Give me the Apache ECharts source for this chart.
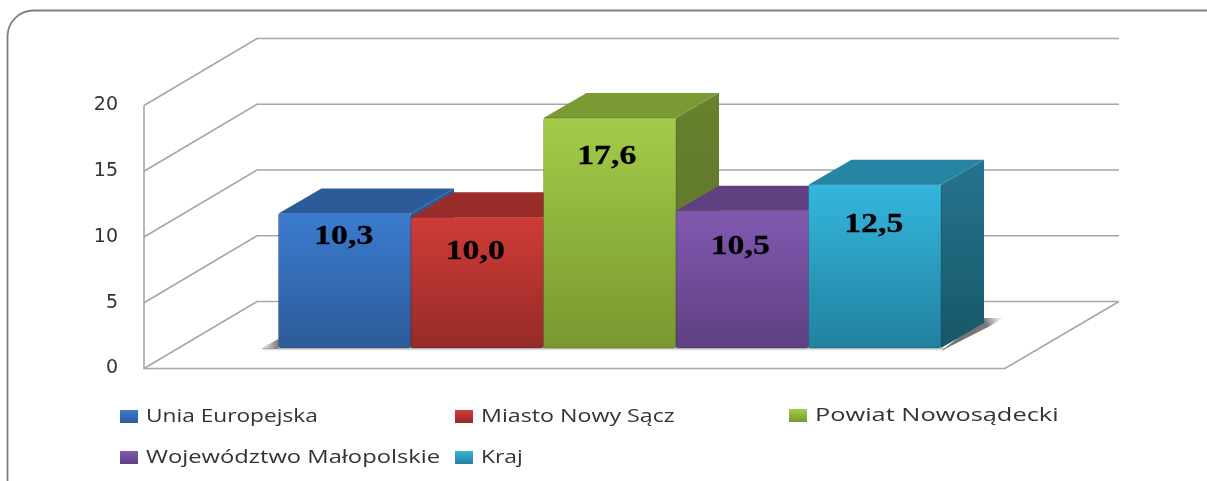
<!DOCTYPE html>
<html><head><meta charset="utf-8">
<style>html,body{margin:0;padding:0;background:#fff}#c{width:1207px;height:481px;filter:blur(0.5px)}</style>
<script src="https://cdn.jsdelivr.net/npm/echarts@6/dist/echarts.min.js"></script>
</head><body><div id="c"></div>
<script>
const categories = ['Unia Europejska','Miasto Nowy Sącz','Powiat Nowosądecki','Województwo Małopolskie','Kraj'];
const values = [10.3,10.0,17.6,10.5,12.5];
const valueLabels = ['10,3','10,0','17,6','10,5','12,5'];
const yTicks = [0,5,10,15,20];

const labelDrop = [24,35,39,36,40];
const labelShift = [-1,-2,-3,-2,-1];
const faceTop = ['#3b7bcf','#d03b37','#a3cc49','#8059b0','#33b7dd'];
const faceBottom = ['#2c5b98','#952b28','#78982f','#5f4082','#22809f'];
const lidColor = ['#2b5c99','#9a2c2a','#7a9a34','#5f4080','#2685a4'];
const sideTop = ['#2b5c99','#8a2725','#67812e','#553a75','#26748f'];
const sideBottom = ['#234c80','#752120','#5c7429','#482f63','#175768'];
const legendSpots = [[120,410],[455,410],[789,409],[120,451],[455,451]];
const legendScale = [1.26,1.29,1.41,1.32,1.27];
const LEGEND_TEXT_X = 26;

const DEPTH = [43,-25], WALL = [113,-67], GRID = '#a6a6a6';
const chart = echarts.init(document.getElementById('c'), null, {renderer:'canvas'});
const vGrad = (a,b)=>new echarts.graphic.LinearGradient(0,0,0,1,[{offset:0,color:a},{offset:1,color:b}]);

const wallSeries = {
  type:'custom', xAxisIndex:0, yAxisIndex:0, silent:true, z:1, clip:false,
  data: yTicks.map(t=>[0,t]),
  renderItem(params, api){
    const t = api.value(1), y = api.coord([0,t])[1], x = params.coordSys.x;
    const right = x + params.coordSys.width;
    const kids = [{type:'polyline',shape:{points:[[x,y],[x+WALL[0],y+WALL[1]],[right+WALL[0]+1,y+WALL[1]]]},
      style:{stroke:GRID,lineWidth:1.6,fill:null}}];
    if(t===0){
      kids.push({type:'polyline',shape:{points:[[x,params.coordSys.y],[x,y],[right,y],[right+WALL[0]+1,y+WALL[1]]]},
        style:{stroke:GRID,lineWidth:1.6,fill:null}});
    }
    return {type:'group',children:kids};
  }
};

const shadowSeries = {
  type:'custom', xAxisIndex:1, yAxisIndex:1, silent:true, z:2, clip:false,
  data:[[0,0]],
  renderItem(params, api){
    const cs = params.coordSys, b = cs.y+cs.height, l = cs.x, r = cs.x+cs.width;
    return {type:'group',children:[
      {type:'polygon',shape:{points:[[l-19,b+1],[l,b-9],[l,b+1]]},
        style:{fill:new echarts.graphic.LinearGradient(0,0,1,0,[{offset:0,color:'rgba(120,120,120,0.05)'},{offset:1,color:'rgba(70,70,70,0.75)'}])}},
      {type:'rect',shape:{x:l-16,y:b,width:cs.width+20,height:3},
        style:{fill:vGrad('rgba(120,120,120,0.6)','rgba(200,200,200,0.05)')}},
      {type:'polygon',shape:{points:[[r,b+3],[r+DEPTH[0]+6,b+DEPTH[1]+3],[r+DEPTH[0]+19,b+DEPTH[1]-5],[r+DEPTH[0],b+DEPTH[1]-5]]},
        style:{fill:new echarts.graphic.LinearGradient(0,1,1,0,[{offset:0,color:'rgba(50,50,50,0.7)'},{offset:0.75,color:'rgba(50,50,50,0.65)'},{offset:1,color:'rgba(120,120,120,0.05)'}])}}
    ]};
  }
};

const barSeries = categories.map((name,i)=>({
  type:'custom', name, xAxisIndex:1, yAxisIndex:1, z:3+i, clip:false,
  itemStyle:{color:faceTop[i]},
  data:[[i,values[i]]],
  renderItem(params, api){
    const tl = api.coord([i,api.value(1)]), base = api.coord([i,0]), w = api.size([1,0])[0];
    const x0 = tl[0]-w/2, x1 = tl[0]+w/2, yT = tl[1], yB = base[1];
    const [dx,dy] = DEPTH;
    return {type:'group',children:[
      {type:'polygon',shape:{points:[[x1,yT],[x1+dx,yT+dy],[x1+dx,yB+dy],[x1,yB]]},
        style:{fill:vGrad(sideTop[i],sideBottom[i])}},
      {type:'polygon',shape:{points:[[x0,yT],[x0+dx,yT+dy],[x1+dx,yT+dy],[x1,yT]]},
        style:{fill:lidColor[i]}},
      {type:'rect',shape:{x:x0,y:yT,width:w,height:yB-yT,r:2},
        style:{fill:vGrad(faceTop[i],faceBottom[i]),stroke:'rgba(0,0,0,0.22)',lineWidth:0.8}},
      {type:'text',x:tl[0]+labelShift[i],y:yT+labelDrop[i],scaleX:1.25,
        style:{text:valueLabels[i],textAlign:'center',textVerticalAlign:'middle',
          font:'bold 27px "Liberation Serif", serif',fill:'#000',stroke:'#000',lineWidth:0.3}}
    ]};
  }
}));

chart.setOption({
  animation:false,
  backgroundColor:'#fff',
  graphic:[
    {type:'rect',z:0,shape:{x:7.5,y:10.5,width:1226,height:495,r:26},
      style:{fill:'#fff',stroke:'#808080',lineWidth:1.8},silent:true},
    ...categories.map((name,i)=>({type:'text',z:10,x:legendSpots[i][0]+LEGEND_TEXT_X,y:legendSpots[i][1]+6.5,scaleX:legendScale[i],
      style:{text:name,font:'18px "Open Sans"',fill:'#333',textAlign:'left',textVerticalAlign:'middle'},silent:true}))
  ],
  grid:[
    {left:144,top:105.5,width:861,height:263},
    {left:278.5,top:86.6,width:662.5,height:261.4}
  ],
  xAxis:[
    {gridIndex:0,type:'category',data:[''],show:false},
    {gridIndex:1,type:'category',data:categories,show:false}
  ],
  yAxis:[
    {gridIndex:0,type:'value',min:0,max:20,interval:5,
      axisLine:{show:false},axisTick:{show:false},splitLine:{show:false},
      axisLabel:{margin:26,color:'#333',fontSize:19,fontFamily:'"DejaVu Sans"',padding:[8,0,0,0]}},
    {gridIndex:1,type:'value',min:0,max:20,show:false}
  ],
  legend:categories.map((name,i)=>({
    left:legendSpots[i][0],top:legendSpots[i][1],
    data:[{name,icon:'rect',itemStyle:{color:vGrad(faceTop[i],faceBottom[i])}}],
    itemWidth:18,itemHeight:13,selectedMode:false,padding:0,
    formatter:()=>' ',
    textStyle:{fontSize:1}
  })),
  series:[wallSeries,shadowSeries,...barSeries]
});
</script></body></html>
